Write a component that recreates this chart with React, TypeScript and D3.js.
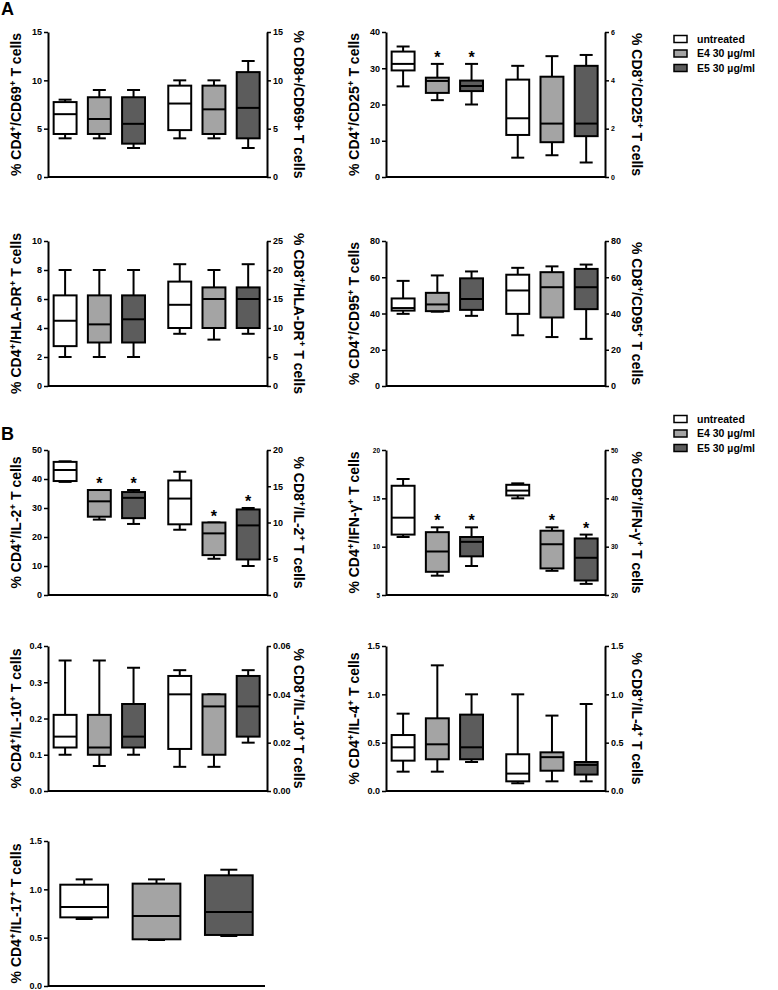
import React, { useEffect, useRef } from 'react';
import * as d3 from 'd3';

const groups = ['untreated', 'E4 30 µg/ml', 'E5 30 µg/ml'];
const fills = ['#ffffff', '#a4a4a4', '#5c5c5c'];

// each box: [min, q1, median, q3, max]
const cd69CD4 = [[4, 4.45, 6.5, 7.75, 8], [4, 4.45, 6, 8.25, 9], [3, 3.45, 5.5, 8.25, 9]];
const cd69CD8 = [[4, 4.85, 7.6, 9.45, 10], [4, 4.45, 7, 9.45, 10], [3, 4, 7.15, 10.85, 12]];
const cd25CD4 = [[25, 29.4, 31.2, 34.6, 36], [21.2, 23.2, 26.5, 27.4, 31.2], [20, 23.7, 25.1, 26.6, 31.2]];
const cd25CD8 = [[0.8, 1.74, 2.43, 4.03, 4.6], [0.9, 1.44, 2.21, 4.15, 5], [0.6, 1.69, 2.21, 4.6, 5.05]];
const hlaCD4 = [[2, 2.75, 4.5, 6.25, 8], [2, 3, 4.25, 6.25, 8], [2, 3, 4.6, 6.25, 8]];
const hlaCD8 = [[9, 10, 14, 18, 21], [8, 10, 15, 17, 20], [9, 10, 15, 17, 21]];
const cd95CD4 = [[39.8, 41.6, 43, 48.3, 58], [41, 41.3, 45, 51.4, 61], [38.7, 42, 48, 59.4, 63.2]];
const cd95CD8 = [[28, 39.8, 52.7, 61.4, 65.2], [27, 37.8, 54.5, 62.8, 66], [26, 42.4, 54.5, 64.6, 67]];
const il2CD4 = [[39, 39.3, 43.1, 45.9, 46.1], [26, 27, 32.3, 36.2, 36.2], [24.5, 26.5, 33.5, 35.5, 36.2]];
const il2CD8 = [[9, 9.75, 13.3, 15.8, 17], [5, 5.5, 8.5, 10, 10], [4, 4.9, 9.6, 11.8, 12]];
const ifnCD4 = [[11, 11.25, 13, 16.3, 17], [7, 7.4, 9.5, 11.5, 12], [8, 9, 10.5, 11, 12]];
const ifnCD8 = [[40, 40.6, 41.6, 42.8, 43.1], [25, 25.5, 30.5, 33.3, 34], [22.3, 23, 27.7, 31.7, 32.5]];
const il10CD4 = [[0.1, 0.12, 0.15, 0.21, 0.36], [0.069, 0.1, 0.12, 0.21, 0.36], [0.1, 0.12, 0.15, 0.24, 0.34]];
const il10CD8 = [[0.01, 0.0174, 0.04, 0.0476, 0.05], [0.01, 0.015, 0.035, 0.04, 0.04], [0.02, 0.0225, 0.035, 0.0476, 0.05]];
const il4CD4 = [[0.2, 0.314, 0.452, 0.579, 0.8], [0.2, 0.328, 0.483, 0.752, 1.3], [0.3, 0.328, 0.452, 0.79, 1.0]];
const il4CD8 = [[0.08, 0.1, 0.18, 0.38, 1.0], [0.1, 0.21, 0.35, 0.4, 0.78], [0.1, 0.17, 0.27, 0.3, 0.9]];
const il17CD4 = [[0.693, 0.71, 0.817, 1.048, 1.103], [0.476, 0.483, 0.724, 1.059, 1.103], [0.517, 0.528, 0.766, 1.145, 1.203]];

const noStars = [false, false, false, false, false, false];
const cd25Stars = [false, true, true, false, false, false];
const il2Stars = [false, true, true, false, true, true];
const ifnStars = [false, true, true, false, true, true];

// slot positions: 3 CD4 boxes, gap, 3 CD8 boxes
const slots = [0, 1, 2, 3.35, 4.35, 5.35];

const W = 219, H = 145;
const font = '"Liberation Sans", Arial, sans-serif';

const panels = [
  { x0: 48, top: 32, left: [0, 15], lt: [0, 5, 10, 15], lf: 'd', right: [0, 15], rt: [0, 5, 10, 15], rf: 'd',
    cd4: cd69CD4, cd8: cd69CD8, stars: noStars, labL: '% CD4^+/CD69^+ T cells', labR: '% CD8+/CD69+ T cells' },
  { x0: 386, top: 32, left: [0, 40], lt: [0, 10, 20, 30, 40], lf: 'd', right: [0, 6], rt: [0, 2, 4, 6], rf: 'd', rs: 7,
    cd4: cd25CD4, cd8: cd25CD8, stars: cd25Stars, labL: '% CD4^+/CD25^+ T cells', labR: '% CD8^+/CD25^+ T cells' },
  { x0: 48, top: 241, left: [0, 10], lt: [0, 2, 4, 6, 8, 10], lf: 'd', right: [0, 25], rt: [0, 5, 10, 15, 20, 25], rf: 'd',
    cd4: hlaCD4, cd8: hlaCD8, stars: noStars, labL: '% CD4^+/HLA-DR^+ T cells', labR: '% CD8^+/HLA-DR^+ T cells' },
  { x0: 386, top: 241, left: [0, 80], lt: [0, 20, 40, 60, 80], lf: 'd', right: [0, 80], rt: [0, 20, 40, 60, 80], rf: 'd',
    cd4: cd95CD4, cd8: cd95CD8, stars: noStars, labL: '% CD4^+/CD95^+ T cells', labR: '% CD8^+/CD95^+ T cells' },
  { x0: 48, top: 450, left: [0, 50], lt: [0, 10, 20, 30, 40, 50], lf: 'd', right: [0, 20], rt: [0, 5, 10, 15, 20], rf: 'd',
    cd4: il2CD4, cd8: il2CD8, stars: il2Stars, labL: '% CD4^+/IL-2^+ T cells', labR: '% CD8^+/IL-2^+ T cells' },
  { x0: 386, top: 450, left: [5, 20], lt: [5, 10, 15, 20], lf: 'd', ls: 6.5, right: [20, 50], rt: [20, 30, 40, 50], rf: 'd', rs: 6.5,
    cd4: ifnCD4, cd8: ifnCD8, stars: ifnStars, labL: '% CD4^+/IFN-γ^+ T cells', labR: '% CD8^+/IFN-γ^+ T cells' },
  { x0: 48, top: 646, left: [0, 0.4], lt: [0, 0.1, 0.2, 0.3, 0.4], lf: '.1f', right: [0, 0.06], rt: [0, 0.02, 0.04, 0.06], rf: '.2f',
    cd4: il10CD4, cd8: il10CD8, stars: noStars, labL: '% CD4^+/IL-10^+ T cells', labR: '% CD8^+/IL-10^+ T cells' },
  { x0: 386, top: 646, left: [0, 1.5], lt: [0, 0.5, 1, 1.5], lf: '.1f', right: [0, 1.5], rt: [0, 0.5, 1, 1.5], rf: '.1f',
    cd4: il4CD4, cd8: il4CD8, stars: noStars, labL: '% CD4^+/IL-4^+ T cells', labR: '% CD8^+/IL-4^+ T cells' },
];

function addLabel(text, label: string) {
  const parts = label.split('^+');
  parts.forEach((p, i) => {
    text.append('tspan').text(p);
    if (i < parts.length - 1) {
      text.append('tspan').attr('baseline-shift', 'super').attr('font-size', '70%').text('+');
    }
  });
}

function drawBoxes(g, x, y, data, pos, stars, bw, cap) {
  data.forEach((d, i) => {
    const cx = x(pos[i]);
    const w = x(bw) - x(0);
    const [mn, q1, md, q3, mx] = d;
    const b = g.append('g').attr('stroke', '#000').attr('stroke-width', 2).attr('fill', 'none');
    b.append('line').attr('x1', cx).attr('x2', cx).attr('y1', y(q3)).attr('y2', y(mx));
    b.append('line').attr('x1', cx).attr('x2', cx).attr('y1', y(q1)).attr('y2', y(mn));
    b.append('line').attr('x1', cx - cap / 2).attr('x2', cx + cap / 2).attr('y1', y(mx)).attr('y2', y(mx));
    b.append('line').attr('x1', cx - cap / 2).attr('x2', cx + cap / 2).attr('y1', y(mn)).attr('y2', y(mn));
    b.append('rect').attr('x', cx - w / 2).attr('width', w).attr('y', y(q3)).attr('height', Math.max(0, y(q1) - y(q3)))
      .attr('fill', fills[i % 3]);
    b.append('line').attr('x1', cx - w / 2).attr('x2', cx + w / 2).attr('y1', y(md)).attr('y2', y(md));
    if (stars[i]) {
      g.append('text').attr('x', cx).attr('y', y(mx) - 1).attr('text-anchor', 'middle')
        .attr('font-size', 16).attr('font-weight', 'bold').text('*');
    }
  });
}

function styleAxis(g, size) {
  g.select('.domain').attr('stroke-width', 2);
  g.selectAll('.tick line').attr('stroke-width', 1.5);
  g.selectAll('.tick text').attr('font-size', size).attr('font-weight', 'bold').attr('font-family', font).attr('fill', '#000');
}

function drawLegend(svg, y0) {
  const lg = svg.append('g').attr('font-family', font).attr('font-weight', 'bold').attr('font-size', 10.5);
  groups.forEach((name, i) => {
    const yy = y0 + i * 14.5;
    lg.append('rect').attr('x', 674).attr('y', yy - 3.5).attr('width', 13).attr('height', 7)
      .attr('fill', fills[i]).attr('stroke', '#000').attr('stroke-width', 1.5);
    lg.append('text').attr('x', 697).attr('y', yy).attr('dy', '0.35em').text(name);
  });
}

export default function App() {
  const ref = useRef(null);

  useEffect(() => {
    const svg = d3.select(ref.current);
    svg.selectAll('*').remove();

    svg.append('text').attr('x', 1).attr('y', 15).attr('font-size', 18).attr('font-weight', 'bold')
      .attr('font-family', font).text('A');
    svg.append('text').attr('x', 1).attr('y', 440).attr('font-size', 18).attr('font-weight', 'bold')
      .attr('font-family', font).text('B');

    drawLegend(svg, 39);
    drawLegend(svg, 419);

    panels.forEach(p => {
      const g = svg.append('g').attr('font-family', font);
      const x = d3.scaleLinear().domain([-0.5, 5.9]).range([p.x0, p.x0 + W]);
      const y = d3.scaleLinear().domain(p.left).range([p.top + H, p.top]);
      const yr = d3.scaleLinear().domain(p.right).range([p.top + H, p.top]);

      g.append('g').attr('transform', `translate(${p.x0},0)`)
        .call(d3.axisLeft(y).tickValues(p.lt).tickFormat(d3.format(p.lf)).tickSize(4).tickSizeOuter(0).tickPadding(2))
        .call(a => styleAxis(a, p.ls || 9));
      g.append('g').attr('transform', `translate(${p.x0 + W},0)`)
        .call(d3.axisRight(yr).tickValues(p.rt).tickFormat(d3.format(p.rf)).tickSize(4).tickSizeOuter(0).tickPadding(2))
        .call(a => styleAxis(a, p.rs || 9));
      g.append('line').attr('x1', p.x0).attr('x2', p.x0 + W).attr('y1', p.top + H).attr('y2', p.top + H)
        .attr('stroke', '#000').attr('stroke-width', 2);

      drawBoxes(g, x, y, p.cd4, slots.slice(0, 3), p.stars.slice(0, 3), 0.67, 13);
      drawBoxes(g, x, yr, p.cd8, slots.slice(3), p.stars.slice(3), 0.67, 13);

      const cy = p.top + H / 2;
      const tl = g.append('text').attr('transform', `translate(${p.x0 - 32},${cy}) rotate(-90)`)
        .attr('text-anchor', 'middle').attr('dy', '0.35em').attr('font-size', 14).attr('font-weight', 'bold');
      addLabel(tl, p.labL);
      const tr = g.append('text').attr('transform', `translate(${p.x0 + W + 32},${cy}) rotate(90)`)
        .attr('text-anchor', 'middle').attr('dy', '0.35em').attr('font-size', 14).attr('font-weight', 'bold');
      addLabel(tr, p.labR);
    });

    // IL-17 panel: CD4 only
    const g = svg.append('g').attr('font-family', font);
    const x0 = 48, top = 841, w17 = 217;
    const x = d3.scaleLinear().domain([-0.5, 2.5]).range([x0, x0 + w17]);
    const y = d3.scaleLinear().domain([0, 1.5]).range([top + H, top]);
    g.append('g').attr('transform', `translate(${x0},0)`)
      .call(d3.axisLeft(y).tickValues([0, 0.5, 1, 1.5]).tickFormat(d3.format('.1f')).tickSize(4).tickSizeOuter(0).tickPadding(2))
      .call(a => styleAxis(a, 9));
    g.append('line').attr('x1', x0).attr('x2', x0 + w17).attr('y1', top + H).attr('y2', top + H)
      .attr('stroke', '#000').attr('stroke-width', 2);
    drawBoxes(g, x, y, il17CD4, [0, 1, 2], [false, false, false], 0.66, 17);
    const tl = g.append('text').attr('transform', `translate(${x0 - 32},${top + H / 2}) rotate(-90)`)
      .attr('text-anchor', 'middle').attr('dy', '0.35em').attr('font-size', 14).attr('font-weight', 'bold');
    addLabel(tl, '% CD4^+/IL-17^+ T cells');
  }, []);

  return (
    <svg ref={ref} width={778} height={990} style={{ position: 'absolute', left: 0, top: 0, background: '#fff' }} />
  );
}
